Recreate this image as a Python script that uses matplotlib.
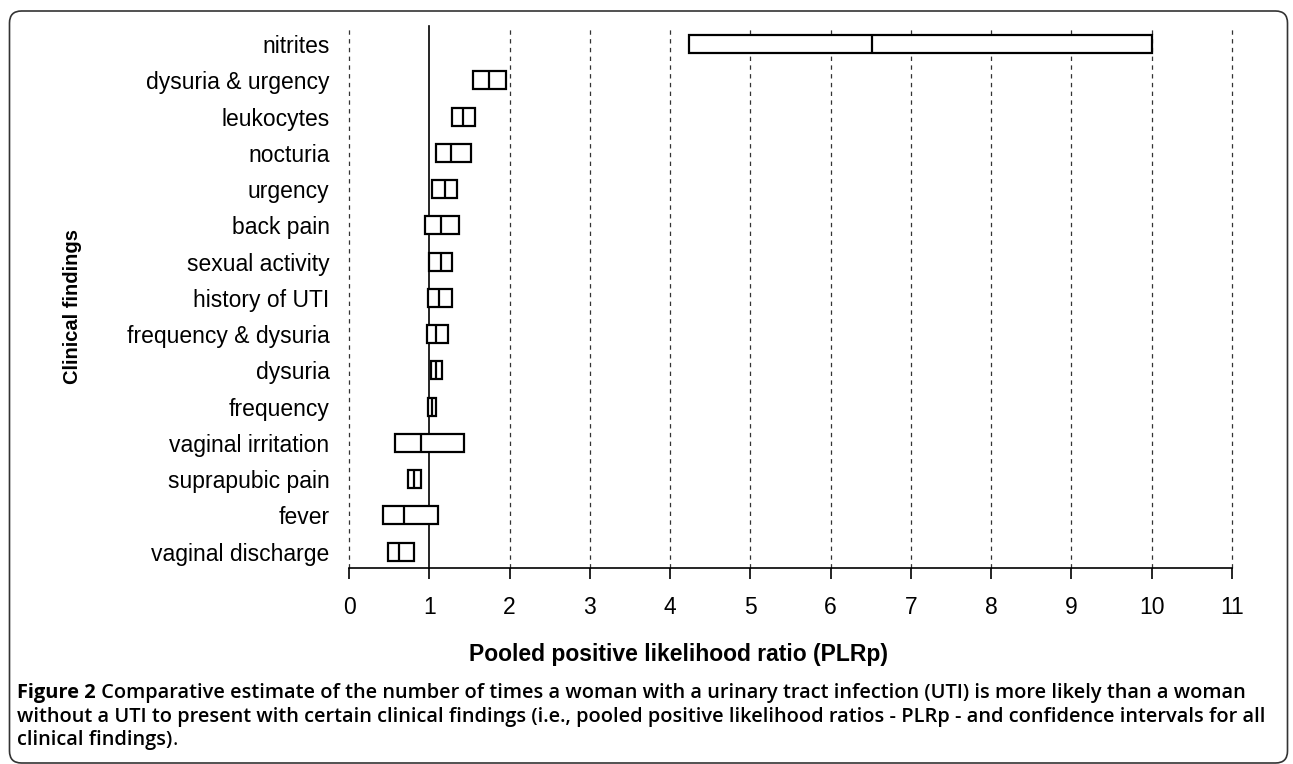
import matplotlib.pyplot as plt
from matplotlib.patches import FancyBboxPatch
from matplotlib.transforms import IdentityTransform

# findings, bottom to top as drawn
findings = ['vaginal discharge', 'fever', 'suprapubic pain', 'vaginal irritation',
            'frequency', 'dysuria', 'frequency & dysuria', 'history of UTI',
            'sexual activity', 'back pain', 'urgency', 'nocturia', 'leukocytes',
            'dysuria & urgency', 'nitrites']
plr_low = [0.49, 0.42, 0.73, 0.57, 0.99, 1.02, 0.97, 0.98, 1.00, 0.95, 1.04, 1.08, 1.28, 1.54, 4.23]
plr_mid = [0.62, 0.68, 0.81, 0.90, 1.03, 1.09, 1.09, 1.12, 1.14, 1.14, 1.19, 1.27, 1.42, 1.74, 6.51]
plr_high = [0.81, 1.11, 0.90, 1.43, 1.08, 1.16, 1.23, 1.28, 1.28, 1.37, 1.34, 1.52, 1.57, 1.95, 10.0]
xticks = list(range(0, 12))

plt.rcParams['font.family'] = ['Liberation Sans', 'DejaVu Sans']

fig = plt.figure(figsize=(12.93, 7.64), dpi=100)
ax = fig.add_axes([349 / 1293, 1 - 568 / 764, (1232 - 349) / 1293, (568 - 26) / 764])

ypos = list(range(len(findings)))
widths = [h - l for l, h in zip(plr_low, plr_high)]
ax.barh(ypos, widths, left=plr_low, height=0.5, color='white', edgecolor='black',
        linewidth=1.6, zorder=3)
ax.vlines(plr_mid, [y - 0.25 for y in ypos], [y + 0.25 for y in ypos],
          color='black', linewidth=1.6, zorder=4)

# reference line at PLR = 1 and dashed grid
for x in xticks:
    if x == 1:
        ax.axvline(x, color='black', linewidth=1.2, zorder=2, clip_on=False)
    else:
        ax.axvline(x, color='#333333', linewidth=0.9, linestyle=(0, (3.5, 3.5)),
                   zorder=1, clip_on=False)

ax.set_xlim(0, 11)
ax.set_ylim(-0.45, 14.5)
ax.set_xticks(xticks)
ax.set_yticks(ypos)
ax.set_yticklabels(findings)
ax.tick_params(axis='y', length=0, pad=14, labelsize=16.5)
ax.tick_params(axis='x', direction='out', length=8, width=1.2, pad=12, labelsize=16.5)
for s in ['top', 'right', 'left']:
    ax.spines[s].set_visible(False)
ax.spines['bottom'].set_linewidth(1.2)

fig.text(72 / 1293, 1 - 307 / 764, 'Clinical findings', rotation=90, ha='center',
         va='center', fontsize=14.5, fontweight='bold')
fig.text(679 / 1293, 1 - 655 / 764, 'Pooled positive likelihood ratio (PLRp)',
         ha='center', va='center', fontsize=16.5, fontweight='bold')

# caption
cap_font = ['Open Sans', 'DejaVu Sans']
cap_size = 14.4
t1 = fig.text(17 / 1293, 1 - 698 / 764, 'Figure 2', fontsize=cap_size, fontweight='bold',
              family=cap_font, va='baseline')
ax.annotate(' Comparative estimate of the number of times a woman with a urinary tract '
            'infection (UTI) is more likely than a woman',
            xy=(1, 0), xycoords=t1, va='bottom', fontsize=cap_size, fontweight='semibold',
            family=cap_font, annotation_clip=False)
fig.text(17 / 1293, 1 - 722 / 764,
         'without a UTI to present with certain clinical findings (i.e., pooled positive '
         'likelihood ratios - PLRp - and confidence intervals for all',
         fontsize=cap_size, fontweight='semibold', family=cap_font, va='baseline')
t3 = fig.text(17 / 1293, 1 - 745 / 764, 'clinical findings)', fontsize=cap_size,
              fontweight='semibold', family=cap_font, va='baseline')
ax.annotate('.', xy=(1, 0), xycoords=t3, va='bottom', fontsize=cap_size,
            family=cap_font, annotation_clip=False)

frame = FancyBboxPatch((9.5, 1), 1278, 752, boxstyle='round,pad=0,rounding_size=12',
                       facecolor='none', edgecolor='#333333', linewidth=1.2,
                       transform=IdentityTransform())
fig.patches.append(frame)

fig.savefig('out.png', dpi=100)
